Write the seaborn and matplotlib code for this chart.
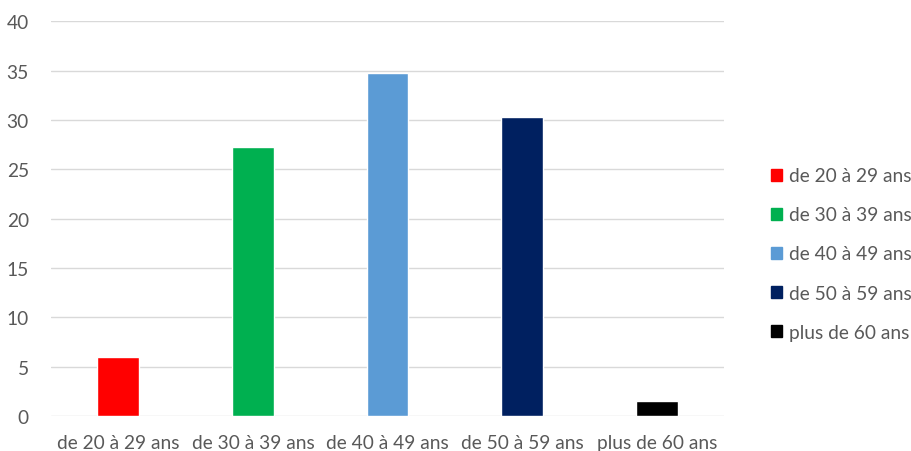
import matplotlib
matplotlib.use("Agg")
import matplotlib.pyplot as plt
import seaborn as sns
import pandas as pd

categories = ["de 20 à 29 ans", "de 30 à 39 ans", "de 40 à 49 ans", "de 50 à 59 ans", "plus de 60 ans"]
values = [6.0, 27.3, 34.8, 30.3, 1.5]
colors = ["#FF0000", "#00B050", "#5B9BD5", "#002060", "#000000"]
y_ticks = [0, 5, 10, 15, 20, 25, 30, 35, 40]

sns.set_theme(style="white")
plt.rcParams["font.family"] = ["Lato", "DejaVu Sans"]

df = pd.DataFrame({"tranche": categories, "valeur": values})

fig = plt.figure(figsize=(9.11, 4.52), dpi=100)
ax = fig.add_axes([51 / 911, 1 - 417 / 452, (724 - 51) / 911, (417 - 22.3) / 452])

sns.barplot(data=df, x="tranche", y="valeur", hue="tranche", order=categories,
            hue_order=categories, palette=colors, dodge=False, width=0.31,
            saturation=1, ax=ax, legend=False)

ax.set_ylim(0, 40)
ax.set_xlim(-0.5, len(categories) - 0.5)
ax.set_yticks(y_ticks)
ax.yaxis.grid(True, color="#D9D9D9", linewidth=1)
ax.set_axisbelow(True)
for s in ax.spines.values():
    s.set_visible(False)
ax.set_xlabel("")
ax.set_ylabel("")
ax.tick_params(axis="both", length=0, labelsize=13.8, labelcolor="#595959")
ax.tick_params(axis="y", pad=16)
ax.tick_params(axis="x", pad=13)

handles = [plt.Rectangle((0, 0), 1, 1, color=c) for c in colors]
fig.legend(handles, categories, loc="center left", bbox_to_anchor=(771 / 911, 1 - 255 / 452),
           frameon=False, fontsize=13.8, labelcolor="#595959", handlelength=0.57,
           handleheight=0.57, handletextpad=0.35, labelspacing=1.15,
           borderpad=0, borderaxespad=0)

fig.savefig("out.png", dpi=100)
